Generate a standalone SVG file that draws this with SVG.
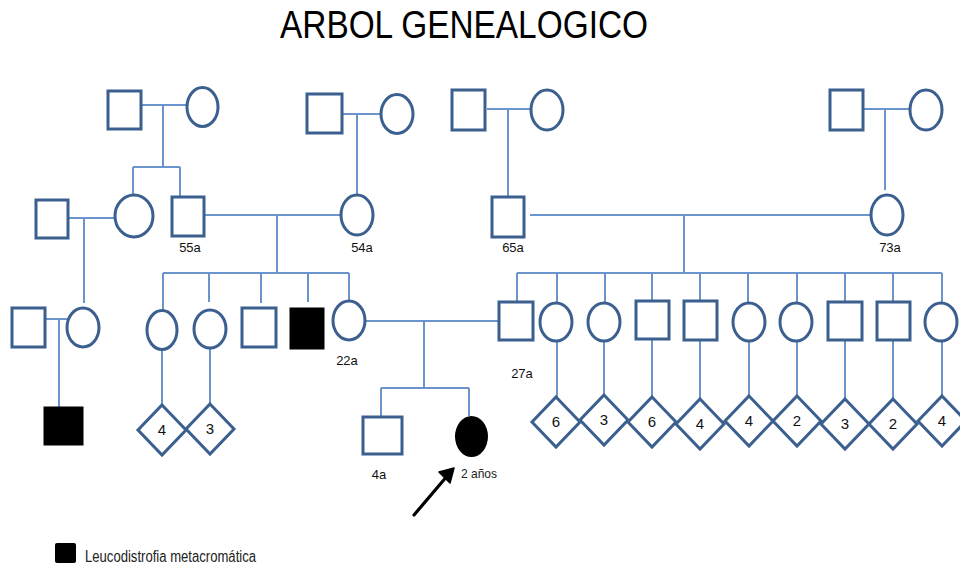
<svg xmlns="http://www.w3.org/2000/svg" width="960" height="567" viewBox="0 0 960 567">
<defs>
<style>
.n{fill:#ffffff;stroke:#3b5f8e;stroke-width:3}
.f{fill:#000000;stroke:#000000;stroke-width:1}
.c{fill:none;stroke:#6a94cb;stroke-width:2}
.lb{font-family:"Liberation Sans",Arial,sans-serif;font-size:13px;fill:#111111;text-anchor:middle}
.dn{font-family:"Liberation Sans",Arial,sans-serif;font-size:15px;fill:#111111;text-anchor:middle}
</style>
</defs>
<rect width="960" height="567" fill="#ffffff"/>
<text x="280" y="38" font-family="'Liberation Sans',Arial,sans-serif" font-size="39" textLength="368" lengthAdjust="spacingAndGlyphs" fill="#000000">ARBOL GENEALOGICO</text>

<g id="connectors">
<path class="c" d="M141,105 H187 M163,105 V167 M133,167 H180 M133,167 V195 M180,167 V197"/>
<path class="c" d="M342,114 H381 M357,114 V195"/>
<path class="c" d="M487,109 H531 M508,109 V197"/>
<path class="c" d="M863,109 H910 M885,109 V190"/>
<path class="c" d="M68,218 H115 M84,218 V303"/>
<path class="c" d="M204,215 H341 M277,215 V273 M163,273 H349 M163,273 V310 M209,273 V302 M261,273 V303 M308,273 V302 M349,273 V301"/>
<path class="c" d="M530,215 H871 M684,215 V273 M517,273 H942 M517,273 V302 M557,273 V303 M605,273 V303 M652,273 V301 M700,273 V301 M748,273 V303 M797,273 V303 M845,273 V302 M893,273 V302 M942,273 V303"/>
<path class="c" d="M45,319 H67 M59,319 V407"/>
<path class="c" d="M365,321 H499 M424,321 V388 M381,388 H469 M381,388 V417 M469,388 V416"/>
<path class="c" d="M162,349 V405 M210,348 V404 M557,341 V397 M604,341 V395 M652,339 V397 M700,340 V399 M749,341 V396 M797,341 V396 M845,340 V399 M893,340 V399 M942,341 V396"/>
</g>

<g id="I1"><rect class="n" x="108" y="91" width="33" height="38"/></g>
<g id="I2"><ellipse class="n" cx="202.5" cy="107" rx="15.5" ry="19.5"/></g>
<g id="I3"><rect class="n" x="307" y="94" width="35" height="39"/></g>
<g id="I4"><ellipse class="n" cx="397" cy="114" rx="16" ry="19.5"/></g>
<g id="I5"><rect class="n" x="452" y="90" width="33" height="40"/></g>
<g id="I6"><ellipse class="n" cx="547" cy="110" rx="16" ry="20"/></g>
<g id="I7"><rect class="n" x="830" y="90" width="33" height="40"/></g>
<g id="I8"><ellipse class="n" cx="926" cy="110" rx="16" ry="20"/></g>

<g id="II1"><rect class="n" x="36" y="200" width="32" height="38"/></g>
<g id="II2"><ellipse class="n" cx="134" cy="216" rx="19" ry="21"/></g>
<g id="II3"><rect class="n" x="172" y="197" width="32" height="39"/><text class="lb" x="190" y="252">55a</text></g>
<g id="II4"><ellipse class="n" cx="357" cy="215" rx="16" ry="20"/><text class="lb" x="362" y="252">54a</text></g>
<g id="II5"><rect class="n" x="492" y="197" width="32" height="40"/><text class="lb" x="513" y="252">65a</text></g>
<g id="II6"><ellipse class="n" cx="887" cy="215" rx="16" ry="20"/><text class="lb" x="890" y="252">73a</text></g>

<g id="III1"><rect class="n" x="12" y="308" width="33" height="39"/></g>
<g id="III2"><ellipse class="n" cx="83" cy="327.5" rx="16" ry="19.5"/></g>
<g id="III3"><ellipse class="n" cx="162" cy="330" rx="15" ry="19.5"/></g>
<g id="III4"><ellipse class="n" cx="210" cy="329" rx="16" ry="19"/></g>
<g id="III5"><rect class="n" x="242" y="308" width="34" height="39"/></g>
<g id="III6"><rect class="f" x="290" y="308" width="34" height="41"/></g>
<g id="III7"><ellipse class="n" cx="349" cy="320.5" rx="16" ry="19.5"/><text class="lb" x="347" y="365">22a</text></g>
<g id="III8"><rect class="n" x="499" y="302" width="34" height="38"/><text class="lb" x="522" y="378">27a</text></g>
<g id="III9"><ellipse class="n" cx="556" cy="322" rx="16" ry="19"/></g>
<g id="III10"><ellipse class="n" cx="604" cy="322" rx="16" ry="19"/></g>
<g id="III11"><rect class="n" x="636" y="301" width="33" height="38"/></g>
<g id="III12"><rect class="n" x="684" y="301" width="33" height="39"/></g>
<g id="III13"><ellipse class="n" cx="749" cy="322" rx="16" ry="19"/></g>
<g id="III14"><ellipse class="n" cx="796" cy="322" rx="16" ry="19"/></g>
<g id="III15"><rect class="n" x="828" y="302" width="34" height="38"/></g>
<g id="III16"><rect class="n" x="877" y="302" width="33" height="38"/></g>
<g id="III17"><ellipse class="n" cx="941" cy="322" rx="16" ry="19"/></g>

<g id="IV1"><rect class="f" x="44" y="407" width="39" height="38"/></g>
<g id="D1"><path class="n" d="M162,405 L186,430 L162,455 L138,430 Z"/><text class="dn" x="162" y="435">4</text></g>
<g id="D2"><path class="n" d="M210,404 L234,429 L210,454 L186,429 Z"/><text class="dn" x="210" y="434">3</text></g>
<g id="IV2"><rect class="n" x="363" y="417" width="39" height="37"/><text class="lb" x="379" y="479">4a</text></g>
<g id="IV3"><ellipse cx="471.5" cy="436.5" rx="16.5" ry="20.5" fill="#000000"/><text x="461" y="478" font-family="'Liberation Sans',Arial,sans-serif" font-size="13" textLength="36" lengthAdjust="spacingAndGlyphs" fill="#222222">2 años</text></g>
<g id="D3"><path class="n" d="M556,397 L580,422 L556,447 L532,422 Z"/><text class="dn" x="556" y="427">6</text></g>
<g id="D4"><path class="n" d="M604,395 L628,420 L604,445 L580,420 Z"/><text class="dn" x="604" y="425">3</text></g>
<g id="D5"><path class="n" d="M652,397 L676,422 L652,447 L628,422 Z"/><text class="dn" x="652" y="427">6</text></g>
<g id="D6"><path class="n" d="M700,399 L724,424 L700,449 L676,424 Z"/><text class="dn" x="700" y="429">4</text></g>
<g id="D7"><path class="n" d="M749,396 L773,421 L749,446 L725,421 Z"/><text class="dn" x="749" y="426">4</text></g>
<g id="D8"><path class="n" d="M797,396 L821,421 L797,446 L773,421 Z"/><text class="dn" x="797" y="426">2</text></g>
<g id="D9"><path class="n" d="M845,399 L869,424 L845,449 L821,424 Z"/><text class="dn" x="845" y="429">3</text></g>
<g id="D10"><path class="n" d="M893,399 L917,424 L893,449 L869,424 Z"/><text class="dn" x="893" y="429">2</text></g>
<g id="D11"><path class="n" d="M942,396 L966,421 L942,446 L918,421 Z"/><text class="dn" x="942" y="426">4</text></g>

<g id="arrow">
<line x1="414" y1="515" x2="448" y2="475" stroke="#000000" stroke-width="3.2" stroke-linecap="round"/>
<path d="M454,468 L439,472 L450,483 Z" fill="#000000" stroke="#000000" stroke-width="1.5" stroke-linejoin="round"/>
</g>

<g id="legend">
<rect x="55" y="543" width="21" height="20" rx="2" fill="#000000"/>
<text x="85" y="562" font-family="'Liberation Sans',Arial,sans-serif" font-size="16" textLength="171" lengthAdjust="spacingAndGlyphs" fill="#222222">Leucodistrofia metacromática</text>
</g>
</svg>
